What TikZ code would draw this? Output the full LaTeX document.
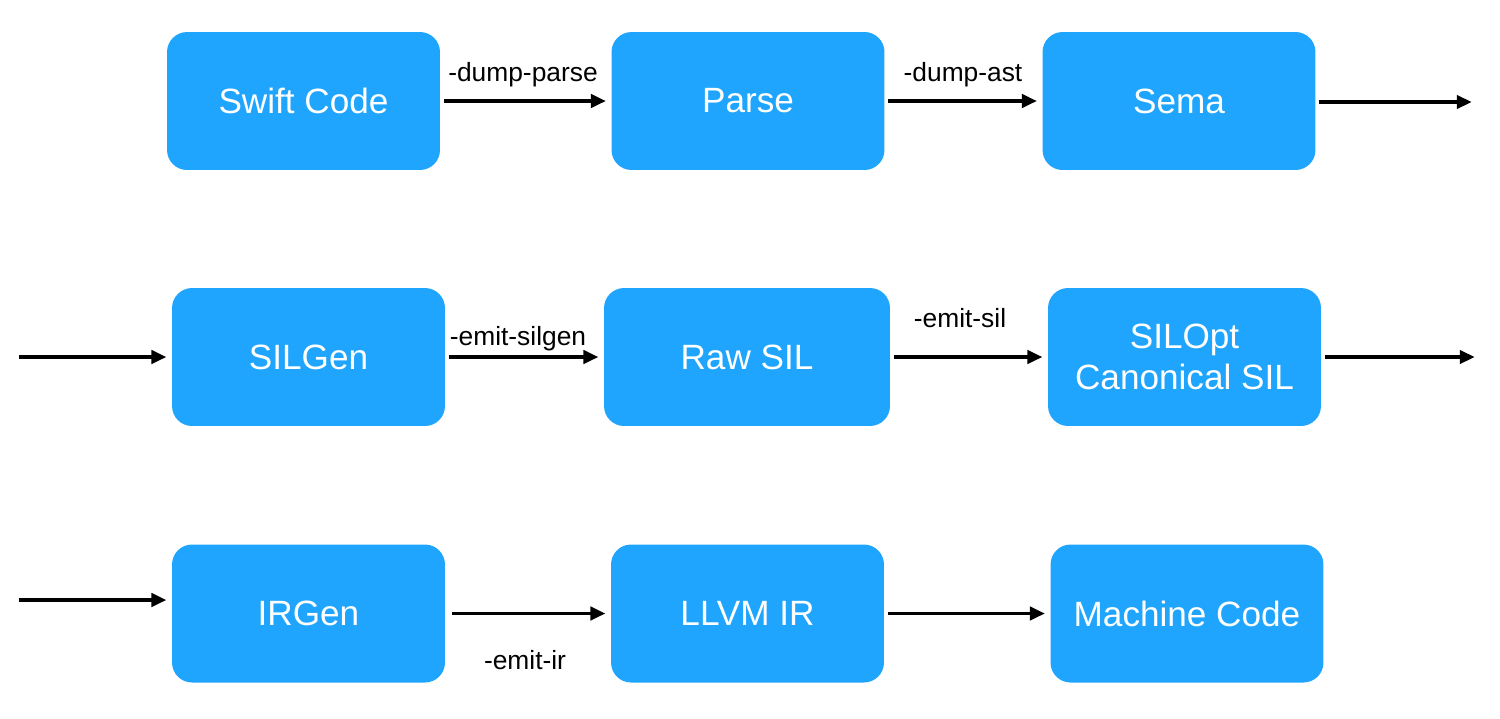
\documentclass[tikz,border=0pt]{standalone}
\usepackage{fontspec}
\setmainfont{Liberation Sans}
\usetikzlibrary{arrows.meta,positioning}
\definecolor{stageblue}{HTML}{1FA5FE}

\begin{document}
\begin{tikzpicture}[
    x=0.02cm,y=-0.02cm,
    >={Triangle[length=8.5pt,width=7.5pt]},
    stage/.style={rectangle,rounded corners=0.4cm,fill=stageblue,text=white,
      minimum width=5.46cm,minimum height=2.76cm,inner sep=0,align=center,
      font=\fontsize{20}{23}\selectfont},
    flow/.style={->,line width=2pt,shorten <=2pt,shorten >=3pt},
    flag/.style={font=\fontsize{15}{18}\selectfont}
    ]

    \useasboundingbox (0,0) rectangle (1500,718);

    \node [stage] (swift) at (303.5,101) {Swift Code};
    \node [stage] (parse) at (748,101) {Parse};
    \node [stage] (sema) at (1179,101) {Sema};

    \node [stage] (silgen) at (308.5,357) {SILGen};
    \node [stage,minimum width=5.72cm] (rawsil) at (747,357) {Raw SIL};
    \node [stage] (silopt) at (1184.5,357) {SILOpt\\Canonical SIL};

    \node [stage] (irgen) at (308.5,613.5) {IRGen};
    \node [stage] (llvmir) at (747.5,613.5) {LLVM IR};
    \node [stage] (machine) at (1187,613.5) {Machine Code};

    % loose ends between the rows
    \coordinate (out1) at (1477,102);
    \coordinate (in2) at (15,357);
    \coordinate (out2) at (1480,357);
    \coordinate (in3) at (15,600);

    % flow
    \draw [flow] (swift) -- (parse);
    \draw [flow] (parse) -- (sema);
    \draw [flow] (sema.east |- out1) -- (out1);
    \draw [flow] (in2) -- (silgen);
    \draw [flow] (silgen) -- (rawsil);
    \draw [flow] (rawsil) -- (silopt);
    \draw [flow] (silopt) -- (out2);
    \draw [flow] (in3) -- (in3 -| irgen.west);
    \draw [flow] ([xshift=2pt]irgen.east) -- (llvmir);
    \draw [flow] (llvmir) -- (machine);

    % flags
    \node [flag] (dumpparse) at (523,75) {-dump-parse};
    \node [flag] (dumpast) at (963,75) {-dump-ast};
    \node [flag] (emitsilgen) at (518,339) {-emit-silgen};
    \node [flag] (emitsil) at (960,318) {-emit-sil};
    \node [flag] (emitir) at (525,660) {-emit-ir};
  \end{tikzpicture}
\end{document}
